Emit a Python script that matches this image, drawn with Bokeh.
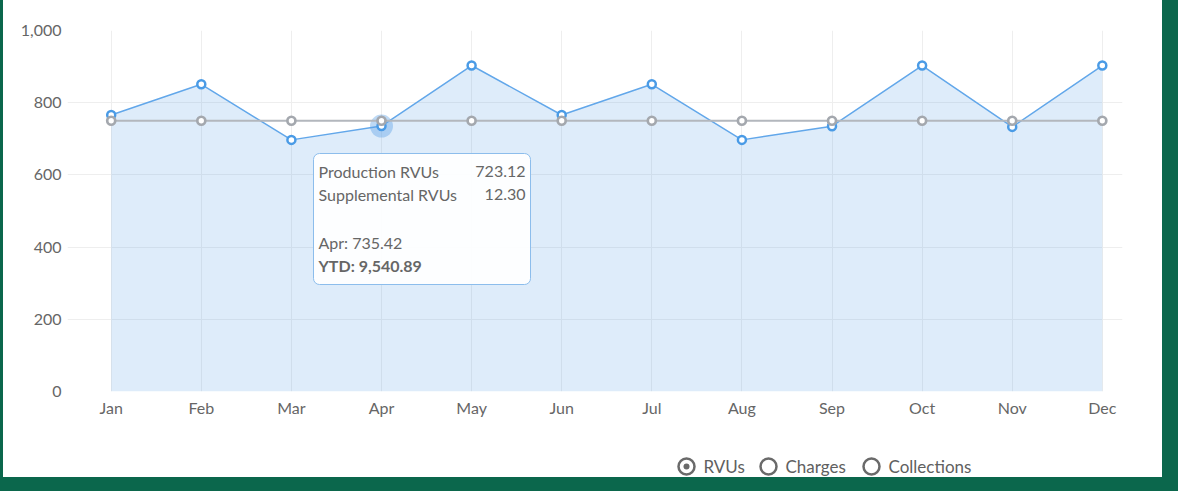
from bokeh.plotting import figure
from bokeh.models import (ColumnDataSource, FixedTicker, NumeralTickFormatter, Range1d,
                          Label, BoxAnnotation, Spacer)
from bokeh.layouts import row, column
from bokeh.embed import file_html
from bokeh.resources import INLINE

# ---------------- data ----------------
months = ["Jan", "Feb", "Mar", "Apr", "May", "Jun", "Jul", "Aug", "Sep", "Oct", "Nov", "Dec"]
rvus = [766, 851, 697, 735.42, 903, 766, 851, 697, 735, 903, 733, 903]
average = [750, 750, 750, 750, 750, 750, 750, 750, 750, 750, 750, 750]
y_ticks = [0, 200, 400, 600, 800, 1000]

hover_index = 3
tooltip_rows = ["Production RVUs", "Supplemental RVUs"]
tooltip_vals = [723.12, 12.30]
ytd_total = 9540.89

radio_options = ["RVUs", "Charges", "Collections"]
radio_selected = 0

# ---------------- style / geometry ----------------
GREEN = "#0b674c"
FONT = "Lato"
TXT = "#666666"
W, H = 1159, 453          # main chart
LH = 24                   # radio-legend strip below it
FL, FR, FT, FB = 64, 40, 30, 62
X0, X1 = -0.485, 11.224
Y0, Y1 = 0, 1000
FW = W - FL - FR
FH = H - FT - FB

src = ColumnDataSource(dict(x=list(range(len(months))), rvu=rvus, avg=average))
hsrc = ColumnDataSource(dict(x=[hover_index], y=[rvus[hover_index]]))

p = figure(width=W, height=H, x_range=Range1d(X0, X1), y_range=Range1d(Y0, Y1),
           output_backend="svg", toolbar_location=None,
           min_border_left=FL, min_border_right=FR, min_border_top=FT, min_border_bottom=FB)
p.outline_line_color = None
p.background_fill_color = "white"
p.border_fill_color = "white"

# area + lines
p.varea(x="x", y1=0, y2="rvu", source=src, fill_color="#5a9ee6", fill_alpha=0.2)
p.line("x", "rvu", source=src, line_color="#62a7ea", line_width=1.5)
p.scatter("x", "y", source=hsrc, size=23, fill_color="#5aa0e6", fill_alpha=0.4, line_color=None)
p.scatter("x", "rvu", source=src, size=8, fill_color="white", line_color="#4a9be6", line_width=2.5)
p.line("x", "avg", source=src, line_color="#b3b7bd", line_width=2)
p.scatter("x", "avg", source=src, size=8, fill_color="white", line_color="#a4a8ae", line_width=2.7)

# axes
p.xaxis.ticker = FixedTicker(ticks=list(range(len(months))))
p.xaxis.major_label_overrides = {i: m for i, m in enumerate(months)}
p.yaxis.ticker = FixedTicker(ticks=y_ticks)
p.yaxis.formatter = NumeralTickFormatter(format="0,0")
for ax in (p.xaxis, p.yaxis):
    ax.axis_line_color = None
    ax.major_tick_line_color = None
    ax.minor_tick_line_color = None
    ax.major_label_text_font = FONT
    ax.major_label_text_font_size = "16px"
    ax.major_label_text_color = TXT
p.xaxis.major_label_standoff = 0
p.yaxis.major_label_standoff = 0
p.xgrid.ticker = FixedTicker(ticks=list(range(len(months))))
p.grid.grid_line_color = "#eeeeee"
p.grid.grid_line_width = 1

# ---------------- tooltip (anchored to the hovered point) ----------------
ax_s = (hover_index - X0) / (X1 - X0) * FW
ay_s = (rvus[hover_index] - Y0) / (Y1 - Y0) * FH

p.add_layout(BoxAnnotation(left=ax_s - 68, right=ax_s + 149, top=ay_s - 27.5, bottom=ay_s - 158.5,
                           left_units="screen", right_units="screen",
                           top_units="screen", bottom_units="screen",
                           fill_color="white", fill_alpha=0.92,
                           line_color="#8cbdec", line_alpha=1, line_width=1, border_radius=6))

def lab(fig, x, y, text, align="left", bold=False, size="16px", color=TXT):
    fig.add_layout(Label(x=x, y=y, x_units="screen", y_units="screen", text=text,
                         text_align=align, text_baseline="middle", text_font=FONT,
                         text_font_size=size, text_color=color,
                         text_font_style="bold" if bold else "normal"))

for i, (name, val) in enumerate(zip(tooltip_rows, tooltip_vals)):
    lab(p, ax_s - 63, ay_s - 45 - 23 * i, name)
    lab(p, ax_s + 144, ay_s - 45 - 23 * i, f"{val:.2f}", align="right")
lab(p, ax_s - 63, ay_s - 116, f"{months[hover_index]}: {rvus[hover_index]:,.2f}")
lab(p, ax_s - 63, ay_s - 139, f"YTD: {ytd_total:,.2f}", bold=True)

# ---------------- radio legend strip below the chart ----------------
leg = figure(width=W, height=LH, x_range=Range1d(0, W), y_range=Range1d(0, LH),
             output_backend="svg", toolbar_location=None,
             x_axis_location=None, y_axis_location=None,
             min_border_left=0, min_border_right=0, min_border_top=0, min_border_bottom=0)
leg.outline_line_color = None
leg.grid.visible = False
leg.background_fill_color = "white"
leg.border_fill_color = "white"

# the strip's frame is aligned with the chart's frame, so positions are frame-relative
cy = 11
circle_x = [683 - FL, 765 - FL, 868 - FL]
for i, (opt, cx) in enumerate(zip(radio_options, circle_x)):
    r = 8
    leg.add_layout(BoxAnnotation(left=cx - r, right=cx + r, top=cy + r, bottom=cy - r,
                                 left_units="screen", right_units="screen",
                                 top_units="screen", bottom_units="screen",
                                 fill_color="white", fill_alpha=1, line_color="#6a6a6a",
                                 line_alpha=1, line_width=2.5, border_radius=r))
    if i == radio_selected:
        d = 3
        leg.add_layout(BoxAnnotation(left=cx - d, right=cx + d, top=cy + d, bottom=cy - d,
                                     left_units="screen", right_units="screen",
                                     top_units="screen", bottom_units="screen",
                                     fill_color="#6a6a6a", fill_alpha=1, line_color=None,
                                     border_radius=d))
    lab(leg, cx + 17, cy, opt, size="17px", color="#606060")

# ---------------- green frame ----------------
left_sp = Spacer(width=3, height=H + LH, styles={"background-color": GREEN})
right_sp = Spacer(width=1178 - 3 - W, height=H + LH, styles={"background-color": GREEN})
bottom_sp = Spacer(width=1178, height=491 - H - LH, styles={"background-color": GREEN})
layout = column(row(left_sp, column(p, leg), right_sp), bottom_sp)

open("out.html", "w").write(file_html(layout, INLINE))
